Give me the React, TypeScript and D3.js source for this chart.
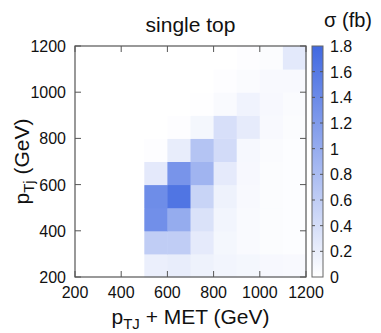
import React from 'react';
import * as d3 from 'd3';

// bin lower edges (GeV), 100 GeV wide
const metBins = [200, 300, 400, 500, 600, 700, 800, 900, 1000, 1100];
const ptjBins = [200, 300, 400, 500, 600, 700, 800, 900, 1000, 1100];

// sigma (fb), one row per pTj bin (bottom to top), columns = pTJ+MET bins
const sigma = [
  [0, 0, 0, 0.19, 0.22, 0.16, 0.12, 0.1, 0.08, 0.07],
  [0, 0, 0, 0.6, 0.6, 0.25, 0.1, 0.06, 0.04, 0.03],
  [0, 0, 0, 1.35, 1.0, 0.35, 0.12, 0.06, 0.04, 0.03],
  [0, 0, 0, 1.37, 1.66, 0.52, 0.16, 0.07, 0.04, 0.03],
  [0, 0, 0, 0.26, 1.28, 0.9, 0.25, 0.08, 0.04, 0.03],
  [0, 0, 0, 0.02, 0.22, 0.71, 0.43, 0.09, 0.05, 0.03],
  [0, 0, 0, 0, 0.02, 0.1, 0.38, 0.24, 0.07, 0.04],
  [0, 0, 0, 0, 0, 0.01, 0.06, 0.14, 0.08, 0.05],
  [0, 0, 0, 0, 0, 0, 0.02, 0.05, 0.07, 0.07],
  [0, 0, 0, 0, 0, 0, 0, 0.02, 0.04, 0.27],
];

const axisTicks = [200, 400, 600, 800, 1000, 1200];
const cbTicks = [0, 0.2, 0.4, 0.6, 0.8, 1, 1.2, 1.4, 1.6, 1.8];

export default function App() {
  const W = 381;
  const H = 333;
  const left = 75;
  const top = 46;
  const size = 231;
  const cbX = 312;
  const cbW = 11;
  const font = 'Liberation Sans, Arial, Helvetica, sans-serif';

  const x = d3.scaleLinear().domain([200, 1200]).range([left, left + size]);
  const y = d3.scaleLinear().domain([200, 1200]).range([top + size, top]);
  const color = d3.scaleLinear<string>().domain([0, 1.8]).range(['#ffffff', '#4169e1']);
  const cb = d3.scaleLinear().domain([0, 1.8]).range([top + size, top]);

  return (
    <svg width={W} height={H} style={{ position: 'absolute', left: 0, top: 0 }} fontFamily={font}>
      <defs>
        <linearGradient id="cbgrad" x1="0" y1="1" x2="0" y2="0">
          <stop offset="0%" stopColor={color(0)} />
          <stop offset="100%" stopColor={color(1.8)} />
        </linearGradient>
      </defs>
      <rect width={W} height={H} fill="#fff" />

      {/* cells */}
      {sigma.map((row, j) =>
        row.map((v, i) => (
          <rect
            key={i + '-' + j}
            x={x(metBins[i])}
            y={y(ptjBins[j] + 100)}
            width={x(metBins[i] + 100) - x(metBins[i]) + 0.5}
            height={y(ptjBins[j]) - y(ptjBins[j] + 100) + 0.5}
            fill={color(v)}
          />
        ))
      )}

      {/* ticks, mirrored on all sides */}
      {axisTicks.map((t) => (
        <g key={t} stroke="#555" strokeWidth={1}>
          <line x1={x(t)} x2={x(t)} y1={top + size} y2={top + size - 6} />
          <line x1={x(t)} x2={x(t)} y1={top} y2={top + 6} />
          <line x1={left} x2={left + 6} y1={y(t)} y2={y(t)} />
          <line x1={left + size} x2={left + size - 6} y1={y(t)} y2={y(t)} />
        </g>
      ))}
      <rect x={left} y={top} width={size} height={size} fill="none" stroke="#555" strokeWidth={1.2} />

      {/* tick labels */}
      {axisTicks.map((t) => (
        <text key={'x' + t} x={x(t)} y={top + size + 21} textAnchor="middle" fontSize={16} fill="#111">
          {t}
        </text>
      ))}
      {axisTicks.map((t) => (
        <text key={'y' + t} x={left - 9} y={y(t) + 6} textAnchor="end" fontSize={16} fill="#111">
          {t}
        </text>
      ))}

      {/* colour bar */}
      <rect x={cbX} y={top} width={cbW} height={size} fill="url(#cbgrad)" stroke="#666" strokeWidth={1} />
      {cbTicks.map((t) => (
        <g key={'cb' + t}>
          {t > 0 && t < 1.8 && (
            <g stroke="#555">
              <line x1={cbX} x2={cbX + 3} y1={cb(t)} y2={cb(t)} />
              <line x1={cbX + cbW} x2={cbX + cbW - 3} y1={cb(t)} y2={cb(t)} />
            </g>
          )}
          <text x={cbX + 18} y={cb(t) + 6} fontSize={16} fill="#111">
            {t}
          </text>
        </g>
      ))}

      {/* titles */}
      <text x={left + size / 2} y={32} textAnchor="middle" fontSize={21} fill="#111">
        single top
      </text>
      <text x={372} y={27} textAnchor="end" fontSize={20} fill="#111">
        σ (fb)
      </text>
      <text x={left + size / 2} y={324} textAnchor="middle" fontSize={21} fill="#111">
        <tspan>p</tspan>
        <tspan fontSize={15} dy={5}>TJ</tspan>
        <tspan dy={-5}> + MET (GeV)</tspan>
      </text>
      <text transform={`translate(29,${top + size / 2}) rotate(-90)`} textAnchor="middle" fontSize={21} fill="#111">
        <tspan>p</tspan>
        <tspan fontSize={15} dy={5}>Tj</tspan>
        <tspan dy={-5}> (GeV)</tspan>
      </text>
    </svg>
  );
}
